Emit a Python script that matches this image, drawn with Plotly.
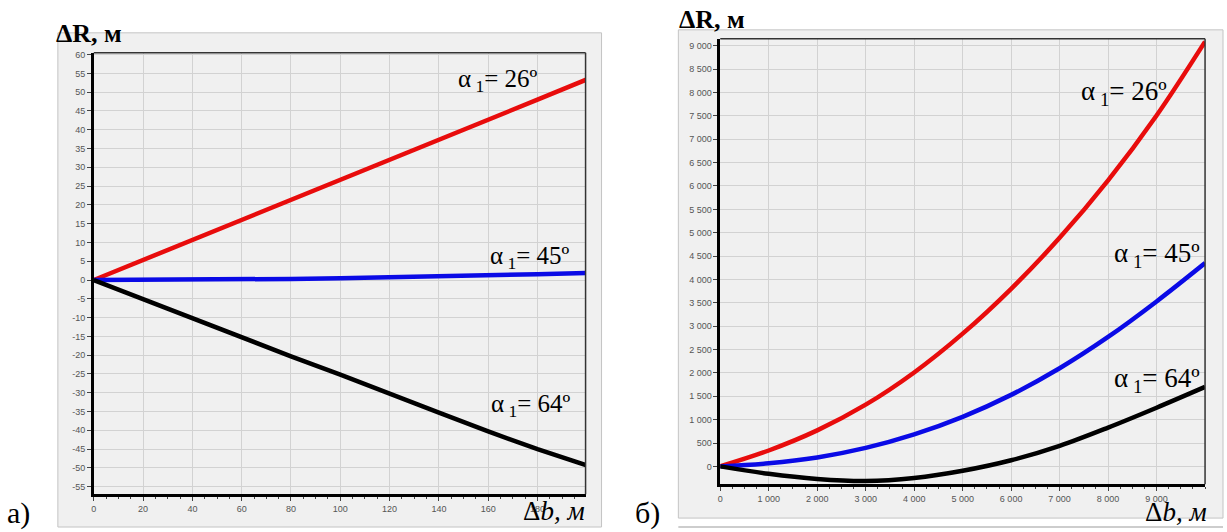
import plotly.graph_objects as go

# ---------------- data ----------------
# panel a) : ΔR vs Δb, small range
b_small = [0, 20, 40, 60, 80, 100, 120, 140, 160, 180, 200]
r26_small = [0, 5.3, 10.7, 16.0, 21.4, 26.7, 32.0, 37.4, 42.7, 48.0, 53.4]
r45_small = [0, 0.02, 0.08, 0.17, 0.3, 0.47, 0.68, 0.93, 1.2, 1.55, 1.9]
r64_small = [0, -5.1, -10.1, -15.4, -20.3, -25.2, -30.4, -35.3, -40.3, -45.0, -49.3]

# panel б) : ΔR vs Δb, large range
b_large = [0, 1000, 2000, 3000, 4000, 5000, 6000, 7000, 8000, 9000, 10000]
r26_large = [0, 340, 770, 1320, 2010, 2840, 3800, 4890, 6120, 7510, 9090]
r45_large = [0, 65, 190, 395, 685, 1060, 1530, 2100, 2770, 3530, 4350]
r64_large = [0, -160, -270, -315, -250, -95, 130, 440, 830, 1255, 1700]

# tick labels
xt_small = [0, 20, 40, 60, 80, 100, 120, 140, 160, 180]
yt_small = list(range(-55, 61, 5))
xt_large = [0, 1000, 2000, 3000, 4000, 5000, 6000, 7000, 8000, 9000]
yt_large = list(range(0, 9001, 500))
xt_large_text = ["0", "1 000", "2 000", "3 000", "4 000", "5 000", "6 000", "7 000", "8 000", "9 000"]
yt_large_text = [("{:,}".format(v)).replace(",", " ") for v in yt_large]

series_names = ["α1 = 26°", "α1 = 45°", "α1 = 64°"]
colors = ["#e80c0c", "#0a0ae6", "#000000"]

# ---------------- figure ----------------
W, H = 1227, 532
def px(x):
    return x / W
def py(y):
    return 1 - y / H

fig = go.Figure()
for ys, c, n in zip([r26_small, r45_small, r64_small], colors, series_names):
    fig.add_trace(go.Scatter(x=b_small, y=ys, mode="lines", line=dict(color=c, width=4.5),
                             name=n, showlegend=False, xaxis="x", yaxis="y"))
for ys, c, n in zip([r26_large, r45_large, r64_large], colors, series_names):
    fig.add_trace(go.Scatter(x=b_large, y=ys, mode="lines",
                             line=dict(color=c, width=4.5, shape="spline", smoothing=1.0),
                             name=n, showlegend=False, xaxis="x2", yaxis="y2"))

tickfont = dict(family="Liberation Sans, Arial, sans-serif", size=9, color="#555555")
grid = "#d2d2d2"
common = dict(showline=True, linecolor="black", linewidth=2.5, ticks="outside", ticklen=4,
              tickcolor="#444444", tickfont=tickfont, showgrid=True, gridcolor=grid, gridwidth=1,
              zeroline=False, fixedrange=True)

fig.update_layout(
    width=W, height=H, margin=dict(l=0, r=0, t=0, b=0),
    paper_bgcolor="white", plot_bgcolor="#f0f0f0",
    xaxis=dict(domain=[px(91), px(584)], range=[0, 199.5], anchor="y",
               tickvals=xt_small, ticktext=[str(v) for v in xt_small],
               minor=dict(dtick=5, ticklen=2, ticks="outside", tickcolor="#444444", showgrid=False),
               **common),
    yaxis=dict(domain=[py(494), py(50)], range=[-57, 60.5], anchor="x",
               tickvals=yt_small, ticktext=[str(v) for v in yt_small], **common),
    xaxis2=dict(domain=[px(719), px(1205)], range=[0, 10000], anchor="y2",
                tickvals=xt_large, ticktext=xt_large_text,
                minor=dict(dtick=250, ticklen=2, ticks="outside", tickcolor="#444444", showgrid=False),
                **common),
    yaxis2=dict(domain=[py(484), py(36)], range=[-383, 9150], anchor="x2",
                tickvals=yt_large, ticktext=yt_large_text, **common),
)

# panel backgrounds
shapes = [
    dict(type="rect", xref="paper", yref="paper", x0=px(55), x1=px(600), y0=py(527), y1=py(30),
         fillcolor="#f0f0f0", line=dict(color="#c4c4c4", width=1), layer="below"),
    dict(type="rect", xref="paper", yref="paper", x0=px(677), x1=px(1223), y0=py(518), y1=py(27),
         fillcolor="#f0f0f0", line=dict(color="#c4c4c4", width=1), layer="below"),
    dict(type="line", xref="paper", yref="paper", x0=px(677), x1=px(1223), y0=py(527), y1=py(527),
         line=dict(color="#bdbdbd", width=1.5)),
]
# plot-area top/right borders
for xa, ya in [("x", "y"), ("x2", "y2")]:
    shapes.append(dict(type="line", xref=xa + " domain", yref=ya + " domain", x0=0, x1=1, y0=1, y1=1,
                       line=dict(color="#333333", width=1.5)))
    shapes.append(dict(type="line", xref=xa + " domain", yref=ya + " domain", x0=1, x1=1, y0=0, y1=1,
                       line=dict(color="#333333", width=1.5)))
fig.update_layout(shapes=shapes)

serif = "Liberation Serif, Times New Roman, serif"
ann = []
def label(text, x, y, size=24, xanchor="center"):
    ann.append(dict(text=text, x=px(x), y=py(y), xref="paper", yref="paper", showarrow=False,
                    xanchor=xanchor, yanchor="middle", font=dict(family=serif, size=size, color="black")))

# curve labels
label("α<sub> 1</sub>= 26º", 496, 78, size=25)
label("α<sub> 1</sub>= 45º", 528, 256, size=25)
label("α<sub> 1</sub>= 64º", 529, 405, size=25)
label("α<sub> 1</sub>= 26º", 1124, 91, size=27)
label("α<sub> 1</sub>= 45º", 1157, 253, size=27)
label("α<sub> 1</sub>= 64º", 1157, 379, size=27)
# axis titles
label("<b>ΔR, м</b>", 51, 31, size=26, xanchor="left")
label("<b>ΔR, м</b>", 676, 17, size=26, xanchor="left")
label("Δ<i>b, м</i>", 552, 511, size=27)
label("Δ<i>b, м</i>", 1176, 512, size=27)
# panel letters
label("а)", 16, 513, size=30)
label("б)", 646, 513, size=30)
fig.update_layout(annotations=ann)

fig.write_html("out.html", config={"displayModeBar": False},
               post_script="document.body.style.margin='0';document.body.style.padding='0';")
